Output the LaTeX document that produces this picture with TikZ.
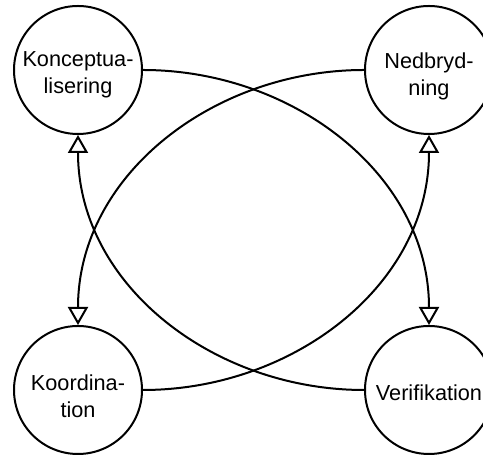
\documentclass[tikz,border=0pt]{standalone}
\usepackage{fontspec}
\setmainfont{Liberation Sans}
\usetikzlibrary{arrows.meta}
\begin{document}
\begin{tikzpicture}[x=1pt,y=1pt,
  circ/.style={draw, circle, line width=2pt, minimum size=128pt, inner sep=0pt},
  txt/.style={align=center, font=\fontsize{21.7}{27}\selectfont, inner sep=0pt},
  conn/.style={line width=2pt, -{Triangle[open,length=18pt,width=20pt]}}]
\useasboundingbox (0,0) rectangle (483,457);
\node[circ] (tl) at (78,387) {};
\node[circ] (tr) at (429,387) {};
\node[circ] (bl) at (78,67) {};
\node[circ] (br) at (429,67) {};
\node[txt] (tlt) at ([yshift=-5pt]tl.center) {Konceptua-\\lisering};
\node[txt] (trt) at ([yshift=-6pt]tr.center) {Nedbryd-\\ning};
\node[txt] (blt) at ([yshift=-6.5pt]bl.center) {Koordina-\\tion};
\node[txt] (brt) at ([yshift=-2.5pt]br.center) {Verifikation};
\draw[conn] (tl.east) to[out=0,in=90] (br.north);
\draw[conn] (tr.west) to[out=180,in=90] (bl.north);
\draw[conn] (bl.east) to[out=0,in=-90] (tr.south);
\draw[conn] (br.west) to[out=180,in=-90] (tl.south);
\end{tikzpicture}
\end{document}
